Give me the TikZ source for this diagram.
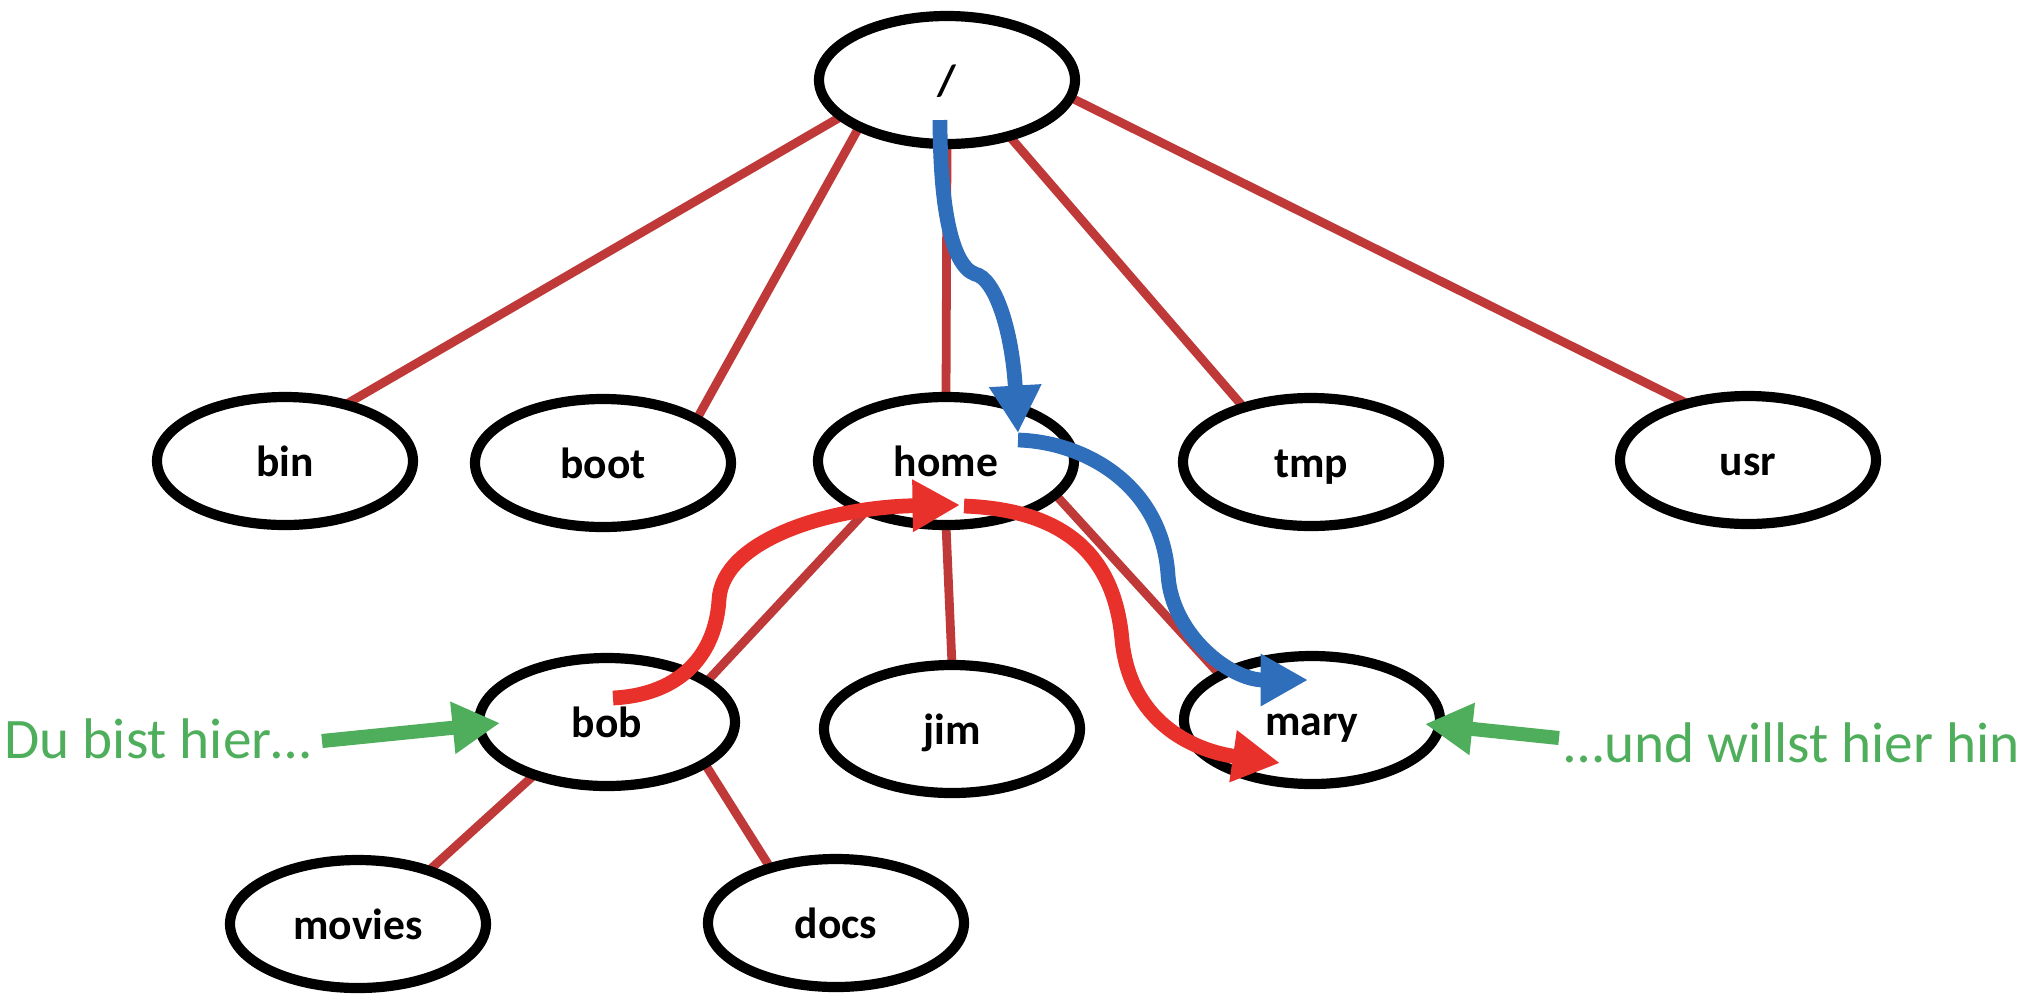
\documentclass[tikz,border=0pt]{standalone}
\usepackage{fontspec}
\setmainfont{Carlito}
\usetikzlibrary{shapes.geometric,arrows.meta,backgrounds}
\definecolor{linkred}{RGB}{192,57,57}
\definecolor{pathblue}{RGB}{47,110,186}
\definecolor{pathred}{RGB}{232,49,42}
\definecolor{hintgreen}{RGB}{79,174,92}
\begin{document}
\begin{tikzpicture}[
    dir/.style={ellipse,draw=black,line width=2.9pt,fill=white,
      minimum width=2.56cm,minimum height=1.28cm,inner sep=0pt,outer sep=0pt,
      font=\fontsize{12.4}{14}\selectfont\bfseries,text height=0.92em,text depth=0.06em},
    link/.style={linkred,line width=2.5pt},
    walk/.style={line width=4.2pt,-{Triangle[length=13.5pt,width=14pt]}},
    hint/.style={hintgreen,inner sep=0pt,font=\fontsize{16.3}{19}\selectfont},
    hintarrow/.style={hintgreen,line width=4pt,-{Triangle[length=13.5pt,width=14pt]}}
  ]
  \useasboundingbox (0,0) rectangle (20.32,-10.04);
  \draw
    (9.47,-0.80) node[dir] (root){/}
    (2.85,-4.61) node[dir] (bin){bin}
    (6.03,-4.63) node[dir] (boot){boot}
    (9.46,-4.61) node[dir] (home){home}
    (13.11,-4.62) node[dir] (tmp){tmp}
    (17.48,-4.60) node[dir] (usr){usr}
    (6.07,-7.22) node[dir] (bob){bob}
    (9.52,-7.29) node[dir] (jim){jim}
    (13.12,-7.20) node[dir] (mary){mary}
    (3.58,-9.24) node[dir] (movies){movies}
    (8.36,-9.23) node[dir] (docs){docs};
  \begin{scope}[on background layer]
    \draw[link] (root.199) to (bin.43);
    \draw[link] (root.208) to (boot.25);
    \draw[link] (root.270) to (home.90);
    \draw[link] (root.318) to (tmp.141);
    \draw[link] (root.352) to (usr.137);
    \draw[link] (home.212) to (bob.22);
    \draw[link] (home.270) to (jim.90);
    \draw[link] (home.343) to (mary.154);
    \draw[link] (bob.216) to (movies.37);
    \draw[link] (bob.337) to (docs.140);
  \end{scope}
  % way through the tree
  \coordinate (b0) at (9.40,-1.20);
  \coordinate (b1) at (10.18,-4.33);
  \coordinate (b2) at (10.18,-4.40);
  \coordinate (b3) at (13.08,-6.80);
  \coordinate (r0) at (6.13,-6.98);
  \coordinate (r1) at (9.60,-5.05);
  \coordinate (r2) at (9.64,-5.06);
  \coordinate (r3) at (12.80,-7.63);
  \draw[walk,pathblue] (b0) .. controls (9.40,-2.0) and (9.50,-2.65) .. (9.75,-2.74)
    .. controls (9.95,-2.78) and (10.12,-3.3) .. (b1);
  \draw[walk,pathblue] (b2) .. controls (10.85,-4.42) and (11.62,-4.85) .. (11.68,-5.75)
    .. controls (11.72,-6.35) and (12.3,-6.8) .. (b3);
  \draw[walk,pathred] (r0) .. controls (6.75,-6.95) and (7.15,-6.6) .. (7.19,-6.0)
    .. controls (7.22,-5.4) and (8.3,-5.07) .. (r1);
  \draw[walk,pathred] (r2) .. controls (10.7,-5.1) and (11.15,-5.6) .. (11.22,-6.4)
    .. controls (11.3,-7.2) and (11.9,-7.5) .. (r3);
  % labels
  \node[hint,anchor=base east] (here) at (3.12,-7.58) {Du bist hier…};
  \node[hint,anchor=base west] (there) at (15.64,-7.62) {…und willst hier hin};
  \draw[hintarrow] ([xshift=0.10cm,yshift=0.17cm]here.base east) -- ([xshift=0.21cm,yshift=-0.01cm]bob.west);
  \draw[hintarrow] ([xshift=-0.05cm,yshift=0.24cm]there.base west) -- ([xshift=-0.15cm,yshift=-0.04cm]mary.east);
\end{tikzpicture}
\end{document}
